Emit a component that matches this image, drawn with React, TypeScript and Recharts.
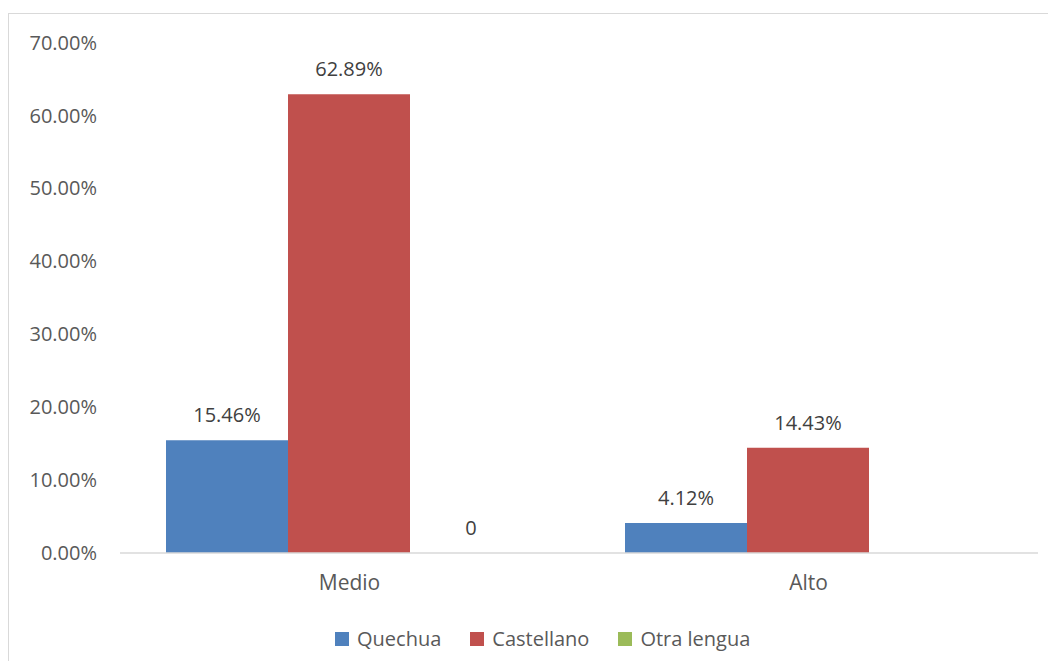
import { Bar, BarChart, LabelList, Legend, XAxis, YAxis } from 'recharts';

const categories = ['Medio', 'Alto'];
const quechua = [15.46, 4.12];
const castellano = [62.89, 14.43];
const otraLengua: (number | null)[] = [0, null];
const yTicks = [0, 10, 20, 30, 40, 50, 60, 70];

const series = [
  { key: 'quechua', name: 'Quechua', color: '#4F81BD' },
  { key: 'castellano', name: 'Castellano', color: '#C0504D' },
  { key: 'otra', name: 'Otra lengua', color: '#9BBB59' },
];

const data = categories.map((cat, i) => ({
  cat,
  quechua: quechua[i],
  castellano: castellano[i],
  otra: otraLengua[i],
}));

const FONT = '"Open Sans", sans-serif';
const TEXT = '#595959';

const pct = (v: number) => `${v.toFixed(2)}%`;

// draws the value above each bar, including the zero one (no label for missing values)
function TopLabel(props: any) {
  const { x, y, width, value } = props;
  if (value === null || value === undefined) return null;
  const txt = Number(value) === 0 ? '0' : pct(Number(value));
  return (
    <text
      x={Number(x) + Number(width) / 2}
      y={Number(y) - 18}
      textAnchor="middle"
      fill="#404040"
      fontSize={20}
      fontFamily={FONT}
    >
      {txt}
    </text>
  );
}

function LegendBox() {
  return (
    <div style={{ display: 'flex', alignItems: 'center', fontFamily: FONT, fontSize: 20, color: TEXT }}>
      {series.map((s) => (
        <div key={s.key} style={{ display: 'flex', alignItems: 'center', marginRight: 29 }}>
          <span style={{ width: 14, height: 14, background: s.color, marginRight: 8, display: 'inline-block' }} />
          <span>{s.name}</span>
        </div>
      ))}
    </div>
  );
}

export default function App() {
  return (
    <div style={{ width: 1040, height: 653, overflow: 'hidden', paddingTop: 5, boxSizing: 'border-box' }}>
      <div style={{ width: 1100, height: 700, border: '1px solid #D9D9D9', background: '#fff' }}>
        <BarChart
          width={1100}
          height={640}
          data={data}
          margin={{ top: 28.5, right: 71, bottom: 5, left: 0 }}
          barCategoryGap={46}
          barGap={0}
        >
          <XAxis
            dataKey="cat"
            height={72}
            tickLine={false}
            tickSize={0}
            tickMargin={22}
            axisLine={{ stroke: '#D9D9D9', strokeWidth: 1.5 }}
            tick={{ fill: TEXT, fontSize: 21, fontFamily: FONT }}
          />
          <YAxis
            width={111}
            domain={[0, 70]}
            ticks={yTicks}
            tickFormatter={pct}
            axisLine={false}
            tickLine={false}
            tickSize={0}
            tickMargin={23}
            tick={{ fill: TEXT, fontSize: 20, fontFamily: FONT }}
          />
          <Legend
            verticalAlign="bottom"
            height={24}
            content={() => <LegendBox />}
            wrapperStyle={{ left: 326, width: 'auto' }}
          />
          {series.map((s) => (
            <Bar
              key={s.key}
              dataKey={s.key}
              name={s.name}
              fill={s.color}
              minPointSize={0.01}
              isAnimationActive={false}
            >
              <LabelList dataKey={s.key} content={TopLabel} />
            </Bar>
          ))}
        </BarChart>
      </div>
    </div>
  );
}
